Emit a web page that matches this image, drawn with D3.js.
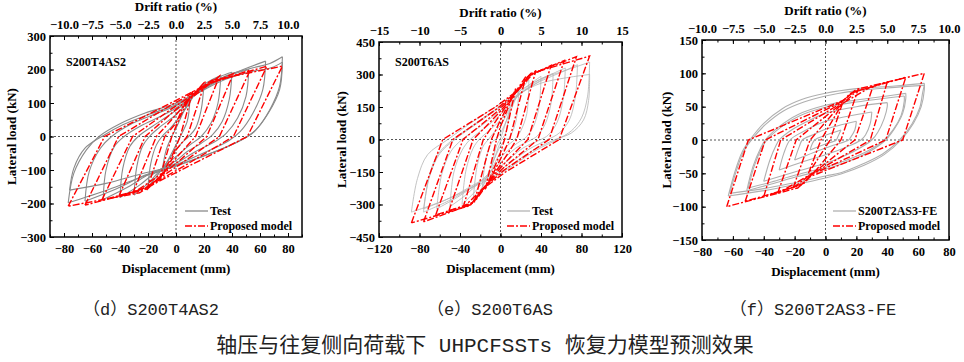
<!DOCTYPE html>
<html>
<head>
<meta charset="utf-8">
<script src="https://cdn.jsdelivr.net/npm/d3@7"></script>
<style>
  body { margin: 0; background: #fff; }
  svg { display: block; }
  .ttl { font-family: 'Liberation Serif', 'Times New Roman', serif; font-weight: bold; font-size: 13px; fill: #000; }
  .cap { font-family: 'Liberation Mono', 'Noto Sans CJK SC', monospace; fill: #222; }
</style>
</head>
<body>
<div class="chart"></div>
<script>
// ---------- data (displacement mm, lateral load kN) ----------
// each loop: starts at the negative peak, goes up to the positive peak, then back down

// (d) S200T4AS2
const p1Test = [
  [[-77,-198],[-73,-110],[-64,-40],[-55,0],[-40,38],[-22,70],[0,99],[18,140],[35,180],[55,205],[67,218],[76,238],[74,150],[67,80],[57,20],[47,-10],[30,-42],[0,-89],[-24,-120],[-48,-158],[-77,-198]],
  [[-76,-160],[-73,-95],[-65,-35],[-53,0],[-38,35],[-20,65],[0,95],[18,135],[35,170],[55,195],[68,205],[76,222],[74,140],[66,70],[56,15],[46,-12],[28,-45],[0,-86],[-25,-112],[-50,-140],[-76,-160]],
  [[-65,-193],[-62,-105],[-54,-35],[-46,0],[-33,35],[-18,62],[0,92],[16,132],[32,170],[48,200],[64,225],[62,140],[55,70],[46,15],[38,-12],[22,-45],[0,-84],[-22,-115],[-42,-155],[-65,-193]],
  [[-52,-188],[-50,-100],[-44,-30],[-37,0],[-25,32],[-12,58],[0,85],[14,125],[28,165],[40,185],[52,200],[50,120],[44,55],[36,10],[28,-15],[14,-45],[0,-80],[-18,-110],[-34,-150],[-52,-188]],
  [[-40,-182],[-38,-95],[-33,-30],[-27,0],[-17,30],[-8,55],[0,78],[12,120],[24,160],[32,180],[40,192],[38,110],[33,45],[26,5],[18,-20],[8,-45],[0,-72],[-14,-105],[-26,-145],[-40,-182]],
  [[-30,-175],[-28,-90],[-24,-30],[-19,0],[-11,30],[0,65],[10,110],[20,155],[32,182],[30,100],[25,40],[18,0],[10,-25],[0,-60],[-10,-95],[-20,-140],[-30,-175]],
  [[-20,-150],[-18,-80],[-14,-25],[-10,0],[-4,25],[0,45],[8,90],[14,130],[20,160],[18,80],[14,25],[9,0],[4,-20],[0,-40],[-8,-85],[-14,-120],[-20,-150]],
  [[-10,-105],[-7,-40],[-3,0],[0,25],[5,70],[10,112],[8,45],[3,0],[0,-25],[-5,-65],[-10,-105]]
];
const p1Model = [
  [[-77,-208],[-51,0],[-6,95],[15,140],[26,168],[76,210],[51,0],[6,-95],[-15,-140],[-26,-168],[-77,-208]],
  [[-65,-205],[-41,0],[-5,90],[14,135],[24,160],[65,210],[41,0],[5,-90],[-14,-135],[-24,-160],[-65,-205]],
  [[-53,-190],[-31,0],[-4,80],[12,125],[22,155],[53,198],[31,0],[4,-80],[-12,-125],[-22,-155],[-53,-190]],
  [[-41,-180],[-22,0],[-3,70],[10,115],[20,150],[41,188],[22,0],[3,-70],[-10,-115],[-20,-150],[-41,-180]],
  [[-31,-170],[-14,0],[-2,55],[8,105],[31,180],[14,0],[2,-55],[-8,-105],[-31,-170]],
  [[-21,-160],[-8,0],[0,40],[6,95],[21,165],[8,0],[0,-40],[-6,-95],[-21,-160]],
  [[-12,-130],[-3,0],[3,60],[12,135],[3,0],[-3,-60],[-12,-130]]
];

// (e) S200T6AS
const p2Test = [
  [[-88,-335],[-82,-180],[-72,-70],[-52,0],[-30,74],[0,166],[20,228],[40,280],[65,320],[88,357],[86,200],[80,100],[70,40],[56,0],[35,-50],[0,-157],[-25,-215],[-55,-280],[-88,-335]],
  [[-76,-335],[-71,-180],[-62,-70],[-47,0],[-26,70],[0,155],[20,215],[40,260],[65,285],[88,300],[87,180],[82,90],[70,30],[54,0],[32,-50],[0,-150],[-25,-210],[-50,-280],[-76,-335]],
  [[-76,-320],[-70,-170],[-60,-65],[-45,0],[-25,68],[0,150],[20,215],[40,270],[60,310],[76,345],[74,200],[68,90],[58,30],[47,0],[28,-45],[0,-140],[-25,-205],[-50,-270],[-76,-320]],
  [[-63,-320],[-58,-160],[-49,-55],[-38,0],[-20,60],[0,135],[18,205],[35,260],[50,300],[64,330],[62,190],[56,80],[47,20],[40,0],[22,-40],[0,-125],[-20,-195],[-42,-265],[-63,-320]],
  [[-50,-310],[-46,-150],[-38,-50],[-30,0],[-15,55],[0,115],[15,190],[30,250],[42,285],[52,305],[50,170],[44,70],[36,15],[31,0],[15,-40],[0,-105],[-18,-185],[-34,-255],[-50,-310]],
  [[-38,-300],[-34,-140],[-27,-40],[-21,0],[-9,50],[0,90],[12,170],[24,235],[40,292],[38,150],[32,55],[24,5],[22,0],[10,-40],[0,-85],[-13,-170],[-25,-240],[-38,-300]],
  [[-27,-280],[-23,-120],[-17,-30],[-12,0],[-5,40],[0,65],[10,150],[18,215],[28,275],[26,120],[20,40],[14,0],[5,-35],[0,-60],[-10,-150],[-18,-220],[-27,-280]],
  [[-18,-220],[-14,-80],[-8,-10],[-5,0],[0,30],[8,110],[18,225],[15,80],[8,5],[5,0],[0,-30],[-8,-110],[-18,-220]],
  [[-9,-130],[-4,-30],[0,5],[4,60],[9,135],[5,30],[0,-10],[-4,-60],[-9,-130]]
];
const p2Model = [
  [[-88,-385],[-57,0],[-5,150],[18,230],[30,305],[88,385],[58,0],[5,-150],[-18,-230],[-30,-305],[-88,-385]],
  [[-76,-380],[-47,0],[-4,140],[17,225],[29,300],[75,382],[48,0],[4,-140],[-17,-225],[-29,-300],[-76,-380]],
  [[-64,-348],[-37,0],[-3,130],[16,220],[28,295],[63,365],[37,0],[3,-130],[-16,-220],[-28,-295],[-64,-348]],
  [[-51,-330],[-27,0],[-2,120],[15,215],[27,290],[50,342],[27,0],[2,-120],[-15,-215],[-27,-290],[-51,-330]],
  [[-37,-315],[-17,0],[-1,110],[14,210],[35,319],[16,0],[1,-110],[-14,-210],[-37,-315]],
  [[-26,-290],[-9,0],[0,90],[12,200],[25,290],[9,0],[0,-90],[-12,-200],[-26,-290]],
  [[-15,-230],[-4,0],[0,60],[15,235],[4,0],[0,-60],[-15,-230]]
];

// (f) S200T2AS3-FE
const p3Test = [
  [[-63,-84],[-59,-50],[-54,-18],[-49,0],[-40,25],[-28,47],[-15,61],[0,70],[20,77],[45,81],[64,85],[64,75],[62,50],[57,25],[49,0],[38,-22],[25,-38],[10,-51],[0,-57],[-20,-67],[-40,-76],[-63,-84]],
  [[-62,-80],[-58,-48],[-53,-17],[-48,0],[-39,23],[-27,44],[-14,57],[0,66],[20,74],[45,79],[64,82],[63,72],[61,48],[56,24],[48,0],[37,-21],[24,-36],[10,-49],[0,-54],[-20,-64],[-40,-73],[-62,-80]],
  [[-51,-76],[-47,-40],[-42,-12],[-39,0],[-30,20],[-18,38],[0,52],[20,60],[40,66],[52,70],[52,62],[50,40],[45,18],[39,0],[28,-18],[15,-32],[0,-44],[-20,-56],[-35,-66],[-51,-76]],
  [[-50,-72],[-46,-38],[-41,-11],[-38,0],[-29,19],[-17,36],[0,49],[20,57],[40,63],[51,66],[51,58],[49,37],[44,16],[38,0],[27,-17],[14,-30],[0,-41],[-20,-53],[-35,-63],[-50,-72]],
  [[-40,-62],[-36,-30],[-32,-8],[-30,0],[-22,15],[-10,30],[0,40],[20,50],[40,56],[40,50],[38,32],[34,12],[30,0],[20,-15],[8,-28],[0,-35],[-20,-48],[-40,-62]],
  [[-30,-45],[-27,-20],[-23,0],[-15,12],[0,28],[15,36],[30,42],[29,25],[26,8],[23,0],[12,-12],[0,-22],[-15,-33],[-30,-45]],
  [[-20,-30],[-17,-10],[-15,0],[-8,8],[0,16],[20,28],[19,15],[16,3],[15,0],[5,-8],[0,-12],[-20,-30]],
  [[-10,-15],[-7,0],[0,7],[10,15],[8,5],[7,0],[0,-6],[-10,-15]]
];
const p3Model = [
  [[-64,-100],[-50,0],[12,60],[20,76],[64,100],[50,0],[-10,-55],[-18,-72],[-64,-100]],
  [[-52,-92],[-39,0],[11,58],[18,72],[52,94],[39,0],[-9,-52],[-16,-68],[-52,-92]],
  [[-40,-85],[-29,0],[10,55],[16,70],[40,87],[29,0],[-8,-50],[-14,-65],[-40,-85]],
  [[-31,-80],[-19,0],[9,52],[31,82],[19,0],[-7,-48],[-31,-80]],
  [[-21,-72],[-10,0],[8,48],[21,75],[10,0],[-6,-45],[-21,-72]],
  [[-11,-50],[-3,0],[11,55],[3,0],[-11,-50]]
];

// tick values
const p1XTicks = [-80,-60,-40,-20,0,20,40,60,80];
const p1YTicks = [-300,-200,-100,0,100,200,300];
const p1DriftTicks = [-10,-7.5,-5,-2.5,0,2.5,5,7.5,10];
const p2XTicks = [-120,-80,-40,0,40,80,120];
const p2YTicks = [-450,-300,-150,0,150,300,450];
const p2DriftTicks = [-15,-10,-5,0,5,10,15];
const p3XTicks = [-80,-60,-40,-20,0,20,40,60,80];
const p3YTicks = [-150,-100,-50,0,50,100,150];
const p3DriftTicks = [-10,-7.5,-5,-2.5,0,2.5,5,7.5,10];

const specimenNames = ['S200T4AS2', 'S200T6AS', ''];
const legendTest = ['Test', 'Test', 'S200T2AS3-FE'];
const legendModel = 'Proposed model';
const captions = ['（d）S200T4AS2', '（e）S200T6AS', '（f）S200T2AS3-FE'];
const figTitle = '轴压与往复侧向荷载下 UHPCFSSTs 恢复力模型预测效果';
const colHeight = 800; // mm, drift ratio = displacement / height

// ---------- drawing ----------
const svg = d3.select('.chart').append('svg').attr('width', 964).attr('height', 362);

const panels = [
  {left: 50, right: 302, top: 36, bottom: 237, xDom: [-90, 90], yDom: [-300, 300],
   xTicks: p1XTicks, yTicks: p1YTicks, dTicks: p1DriftTicks, dFmt: d3.format('.1f'),
   xMinor: 10, yMinor: 50, dMinor: 1.25,
   test: p1Test, model: p1Model, grey: '#8a8a8a', gw: 1.1, yTitleX: 12, legX: 185},
  {left: 379, right: 622, top: 42, bottom: 237, xDom: [-120, 120], yDom: [-450, 450],
   xTicks: p2XTicks, yTicks: p2YTicks, dTicks: p2DriftTicks, dFmt: d3.format('d'),
   xMinor: 20, yMinor: 75, dMinor: 2.5,
   test: p2Test, model: p2Model, grey: '#b4b4b4', gw: 0.8, yTitleX: 342, legX: 507},
  {left: 702, right: 949, top: 40, bottom: 240, xDom: [-80, 80], yDom: [-150, 150],
   xTicks: p3XTicks, yTicks: p3YTicks, dTicks: p3DriftTicks, dFmt: d3.format('.1f'),
   xMinor: 10, yMinor: 25, dMinor: 1.25,
   test: p3Test, model: p3Model, grey: '#b0b0b0', gw: 1.1, yTitleX: 667, legX: 833}
];

function minorValues(dom, step) {
  let out = [];
  for (let v = Math.ceil(dom[0] / step) * step; v <= dom[1] + 1e-9; v += step) out.push(+v.toFixed(4));
  return out;
}

// split a loop at its rightmost point so the tips stay sharp
function branches(loop) {
  let imax = d3.maxIndex(loop, d => d[0]);
  return [loop.slice(0, imax + 1), loop.slice(imax)];
}

panels.forEach((p, i) => {
  const x = d3.scaleLinear().domain(p.xDom).range([p.left, p.right]);
  const y = d3.scaleLinear().domain(p.yDom).range([p.bottom, p.top]);
  const drift = d3.scaleLinear().domain(p.xDom.map(v => v / colHeight * 100)).range([p.left, p.right]);
  const g = svg.append('g');

  g.append('clipPath').attr('id', 'clip' + i)
    .append('rect').attr('x', p.left).attr('y', p.top)
    .attr('width', p.right - p.left).attr('height', p.bottom - p.top);

  // zero lines
  g.append('line').attr('x1', p.left).attr('x2', p.right).attr('y1', y(0)).attr('y2', y(0))
    .attr('stroke', '#555').attr('stroke-dasharray', '2,2');
  g.append('line').attr('x1', x(0)).attr('x2', x(0)).attr('y1', p.top).attr('y2', p.bottom)
    .attr('stroke', '#555').attr('stroke-dasharray', '2,2');

  const plot = g.append('g').attr('clip-path', `url(#clip${i})`);
  const smooth = d3.line().x(d => x(d[0])).y(d => y(d[1])).curve(d3.curveCatmullRom.alpha(0.5));
  const straight = d3.line().x(d => x(d[0])).y(d => y(d[1]));

  p.test.forEach(loop => {
    branches(loop).forEach(b => {
      plot.append('path').attr('d', smooth(b)).attr('fill', 'none')
        .attr('stroke', p.grey).attr('stroke-width', p.gw);
    });
  });
  p.model.forEach(loop => {
    plot.append('path').attr('d', straight(loop)).attr('fill', 'none')
      .attr('stroke', '#ff0000').attr('stroke-width', 1.4)
      .attr('stroke-dasharray', '7,2,2,2');
  });

  // axes, ticks pointing inwards
  g.append('g').attr('transform', `translate(0,${p.bottom})`)
    .call(d3.axisBottom(x).tickValues(p.xTicks).tickSizeInner(-4).tickSizeOuter(0).tickPadding(7));
  g.append('g').attr('transform', `translate(0,${p.bottom})`)
    .call(d3.axisBottom(x).tickValues(minorValues(p.xDom, p.xMinor)).tickFormat('').tickSizeInner(-2.5).tickSizeOuter(0));
  g.append('g').attr('transform', `translate(${p.left},0)`)
    .call(d3.axisLeft(y).tickValues(p.yTicks).tickSizeInner(-4).tickSizeOuter(0).tickPadding(4));
  g.append('g').attr('transform', `translate(${p.left},0)`)
    .call(d3.axisLeft(y).tickValues(minorValues(p.yDom, p.yMinor)).tickFormat('').tickSizeInner(-2.5).tickSizeOuter(0));
  g.append('g').attr('transform', `translate(0,${p.top})`)
    .call(d3.axisTop(drift).tickValues(p.dTicks).tickFormat(p.dFmt).tickSizeInner(-4).tickSizeOuter(0).tickPadding(7));
  g.append('g').attr('transform', `translate(0,${p.top})`)
    .call(d3.axisTop(drift).tickValues(minorValues(drift.domain(), p.dMinor)).tickFormat('').tickSizeInner(-2.5).tickSizeOuter(0));
  g.selectAll('.domain').remove();
  g.selectAll('.tick line').attr('stroke', '#000');
  g.selectAll('.tick text')
    .attr('font-family', null).attr('font-size', null)
    .style('font-family', "'Liberation Serif', 'Times New Roman', serif")
    .style('font-weight', 'bold').style('font-size', '12.5px').attr('fill', '#000');

  g.append('rect').attr('x', p.left).attr('y', p.top)
    .attr('width', p.right - p.left).attr('height', p.bottom - p.top)
    .attr('fill', 'none').attr('stroke', '#000').attr('stroke-width', 1.5);

  const cx = (p.left + p.right) / 2;
  g.append('text').attr('class', 'ttl').attr('x', cx).attr('y', p.top - 25)
    .attr('text-anchor', 'middle').text('Drift ratio (%)');
  g.append('text').attr('class', 'ttl').attr('x', cx).attr('y', p.bottom + 36)
    .attr('text-anchor', 'middle').text('Displacement (mm)');
  g.append('text').attr('class', 'ttl')
    .attr('transform', `translate(${p.yTitleX + 4},${(p.top + p.bottom) / 2}) rotate(-90)`)
    .attr('text-anchor', 'middle').text('Lateral load (kN)');

  if (specimenNames[i]) {
    g.append('text').attr('class', 'ttl').attr('x', p.left + 16).attr('y', 66)
      .style('font-size', '12px').text(specimenNames[i]);
  }

  // legend
  const ly1 = 211, ly2 = 226;
  g.append('line').attr('x1', p.legX).attr('x2', p.legX + 23).attr('y1', ly1).attr('y2', ly1)
    .attr('stroke', p.grey).attr('stroke-width', 1.3);
  g.append('text').attr('class', 'ttl').attr('x', p.legX + 25).attr('y', ly1 + 4)
    .style('font-size', '12px').text(legendTest[i]);
  g.append('line').attr('x1', p.legX).attr('x2', p.legX + 23).attr('y1', ly2).attr('y2', ly2)
    .attr('stroke', '#ff0000').attr('stroke-width', 1.4).attr('stroke-dasharray', '7,2,2,2');
  g.append('text').attr('class', 'ttl').attr('x', p.legX + 25).attr('y', ly2 + 4)
    .style('font-size', '12px').text(legendModel);
});

// captions and figure title
const capX = [151, 490, 813];
captions.forEach((c, i) => {
  svg.append('text').attr('class', 'cap').attr('x', capX[i]).attr('y', 315)
    .attr('text-anchor', 'middle').style('font-size', '17px').text(c);
});
svg.append('text').attr('class', 'cap').attr('x', 485).attr('y', 352)
  .attr('text-anchor', 'middle').style('font-size', '21px').text(figTitle);
</script>
</body>
</html>
